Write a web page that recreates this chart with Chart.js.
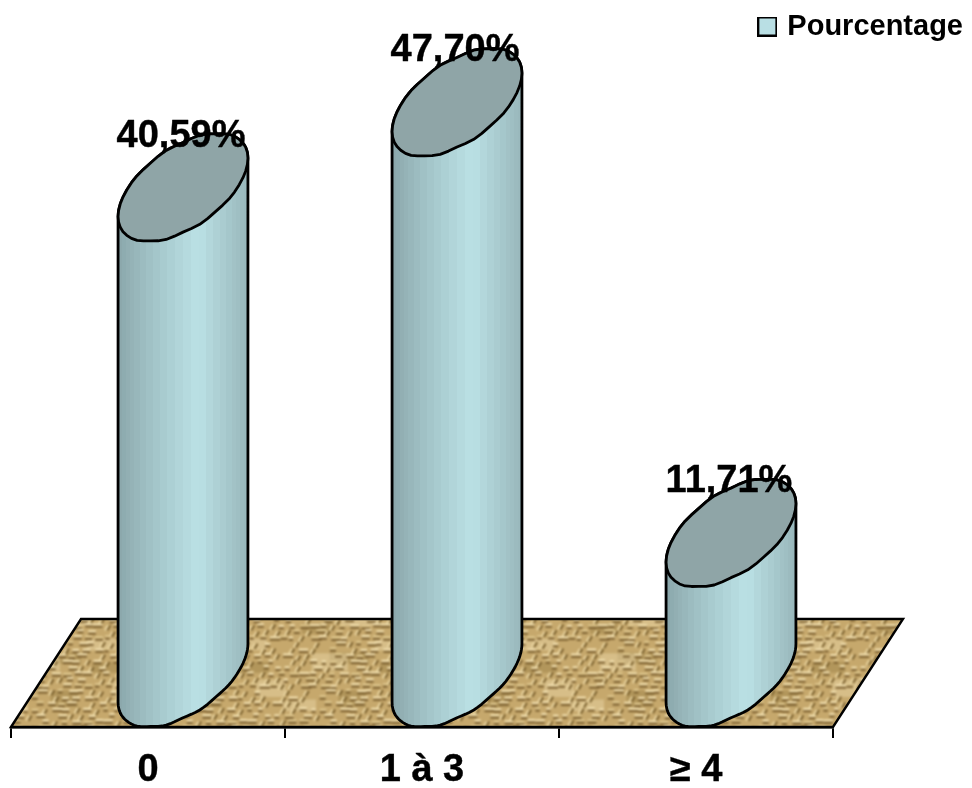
<!DOCTYPE html>
<html>
<head>
<meta charset="utf-8">
<style>
  html, body { margin: 0; padding: 0; background: #fff; }
  #wrap { width: 972px; height: 788px; }
</style>
<script src="https://cdn.jsdelivr.net/npm/chart.js@4"></script>
</head>
<body>
<div id="wrap"><canvas id="chart"></canvas></div>
<script>
const categories = ['0', '1 à 3', '≥ 4'];
const percentages = [40.59, 47.70, 11.71];
const seriesName = 'Pourcentage';

const FONT = '"Liberation Sans", Arial, sans-serif';
const BODY_LIGHT = [187, 225, 229];
const BODY_LEFT = [136, 164, 168];
const BODY_RIGHT = [152, 182, 186];
const FLOOR_DX = 70;   // how far the back edge of the floor leans right
const FLOOR_DY = 108;  // floor depth on screen
const BANDS = 26;

function mix(a, b, t) {
  return 'rgb(' + a.map((v, i) => Math.round(v + (b[i] - v) * t)).join(',') + ')';
}

// woven sacking texture for the floor, tiled as a pattern
function makeFloorPattern(ctx) {
  const size = 144;
  const raw = document.createElement('canvas');
  raw.width = raw.height = size * 3;
  const r = raw.getContext('2d');
  r.fillStyle = '#c6a86c';
  r.fillRect(0, 0, size * 3, size * 3);
  let seed = 23;
  const next = () => {
    seed = (seed * 137 + 59) % 1009;
    return seed / 1009;
  };
  // the same threads are repeated on a 3x3 grid so the blur wraps cleanly
  const thread = (color, width, x0, y0, x1, y1) => {
    r.strokeStyle = color;
    r.lineWidth = width;
    for (let gx = 0; gx < 3; gx++) {
      for (let gy = 0; gy < 3; gy++) {
        r.beginPath();
        r.moveTo(x0 + gx * size, y0 + gy * size);
        r.lineTo(x1 + gx * size, y1 + gy * size);
        r.stroke();
      }
    }
  };
  // wide pale and olive patches
  for (let i = 0; i < 12; i++) {
    const tone = next() < 0.45 ? 'rgba(236,218,170,0.45)' : 'rgba(140,118,60,0.35)';
    const x = next() * size, y = next() * size;
    thread(tone, 10 + next() * 8, x, y, x + 18 + next() * 22, y);
  }
  // short threads: mostly flat, some slanting down to the left
  for (let row = 0; row < 24; row++) {
    for (let col = 0; col < 14; col++) {
      const x = col * 10.3 + (row % 2) * 5 + next() * 3;
      const y = row * 6 + next() * 2;
      const k = next();
      const w = 4 + next() * 7;
      if (k < 0.6) {
        thread(next() < 0.62 ? '#f2e0b0' : '#dfc88f', 2.2, x, y, x + w, y);
        thread('#75592a', 1.9, x, y + 2.4, x + w, y + 2.4);
      } else if (k < 0.88) {
        thread('#ecd7a2', 2.2, x + 3, y, x, y + 5);
        thread('#745a28', 1.9, x + 5.2, y, x + 2.2, y + 5);
      }
    }
  }
  const soft = document.createElement('canvas');
  soft.width = soft.height = size;
  const s = soft.getContext('2d');
  s.filter = 'blur(0.8px)';
  s.drawImage(raw, -size, -size);
  return ctx.createPattern(soft, 'repeat');
}

// the square legend marker; the box is placed by hand so it sits closer to the text
function makeLegendMark(color) {
  const c = document.createElement('canvas');
  c.width = c.height = 20;
  const g = c.getContext('2d');
  g.fillStyle = color;
  g.fillRect(1, 1, 18, 18);
  g.strokeStyle = '#000';
  g.lineWidth = 2;
  g.strokeRect(1, 1, 18, 18);
  return c;
}

// a point on the leaning elliptical rim of a cylinder, with a little hand wobble
function rimPoint(cx, cy, rx, t) {
  const c = Math.cos(t), s = Math.sin(t);
  const wobble = 0.7 * Math.sin(11 * t) * s * s;
  return [cx + rx * c, cy - rx * 0.45 * c + rx * 0.7 * s + wobble];
}

function traceRim(ctx, cx, cy, rx, from, to, start) {
  const steps = 48;
  for (let i = 0; i <= steps; i++) {
    const p = rimPoint(cx, cy, rx, from + (to - from) * i / steps);
    if (i === 0 && start) ctx.moveTo(p[0], p[1]);
    else ctx.lineTo(p[0], p[1]);
  }
}

class CylinderController extends Chart.BarController {
  draw() {
    const ctx = this.chart.ctx;
    const bars = this._cachedMeta.data;
    const values = this.getDataset().data;
    bars.forEach((bar) => {
      const p = bar.getProps(['x', 'y', 'base', 'width'], true);
      const rx = p.width / 2;
      const cx = p.x + FLOOR_DX / 2;
      const topY = p.y - FLOOR_DY / 2;
      const baseY = p.base - FLOOR_DY / 2;

      const outline = () => {
        ctx.beginPath();
        traceRim(ctx, cx, topY, rx, 0, -Math.PI, true);
        traceRim(ctx, cx, baseY, rx, Math.PI, 0, false);
        ctx.closePath();
      };
      ctx.save();
      outline();
      ctx.clip();
      // shaded strips, narrower towards the edges like a real cylinder
      for (let b = 0; b < BANDS; b++) {
        const a0 = Math.PI - Math.PI * b / BANDS;
        const a1 = Math.PI - Math.PI * (b + 1) / BANDS;
        const x0 = Math.round(cx + rx * Math.cos(a0));
        const x1 = Math.round(cx + rx * Math.cos(a1));
        const t = ((x0 + x1) / 2 - (cx - rx)) / p.width;
        ctx.fillStyle = t < 0.62
          ? mix(BODY_LEFT, BODY_LIGHT, Math.pow(t / 0.62, 0.8))
          : mix(BODY_LIGHT, BODY_RIGHT, (t - 0.62) / 0.38);
        ctx.fillRect(x0, topY - rx, Math.max(x1 - x0, 1), baseY - topY + 2 * rx + 10);
      }
      ctx.restore();

      ctx.lineWidth = 2.8;
      ctx.lineJoin = 'round';
      ctx.strokeStyle = '#000';
      outline();
      ctx.stroke();

      ctx.beginPath();
      traceRim(ctx, cx, topY, rx, 0, Math.PI * 2, true);
      ctx.closePath();
      ctx.fillStyle = '#8fa5a7';
      ctx.fill();
      ctx.stroke();
    });

    // value labels sit on the far edge of each top rim
    ctx.save();
    ctx.font = 'bold 38px ' + FONT;
    ctx.fillStyle = '#000';
    ctx.strokeStyle = '#000';
    ctx.lineWidth = 0.4;
    ctx.textAlign = 'center';
    ctx.textBaseline = 'middle';
    bars.forEach((bar, i) => {
      const p = bar.getProps(['x', 'y', 'width'], true);
      const text = values[i].toFixed(2).replace('.', ',') + '%';
      const tx = p.x + FLOOR_DX / 2 - 2;
      const ty = p.y - FLOOR_DY / 2 - p.width * 0.395;
      ctx.fillText(text, tx, ty);
      ctx.strokeText(text, tx, ty);
    });
    ctx.restore();
  }
}
CylinderController.id = 'cylinder';
CylinderController.defaults = Chart.BarController.defaults;
Chart.register(CylinderController);

let floorPattern = null;
const floorPlugin = {
  id: 'floor',
  beforeDatasetsDraw(chart) {
    const { ctx, chartArea: area } = chart;
    if (!floorPattern) floorPattern = makeFloorPattern(ctx);
    ctx.save();
    ctx.beginPath();
    ctx.moveTo(area.left, area.bottom);
    ctx.lineTo(area.left + FLOOR_DX, area.bottom - FLOOR_DY);
    ctx.lineTo(area.right + FLOOR_DX, area.bottom - FLOOR_DY);
    ctx.lineTo(area.right, area.bottom);
    ctx.closePath();
    ctx.fillStyle = floorPattern;
    ctx.fill();
    ctx.lineWidth = 2.4;
    ctx.strokeStyle = '#000';
    ctx.stroke();
    ctx.restore();
  }
};

new Chart(document.getElementById('chart'), {
  type: 'cylinder',
  data: {
    labels: categories,
    datasets: [{
      label: seriesName,
      data: percentages,
      backgroundColor: '#b9dfe4',
      barPercentage: 0.474,
      categoryPercentage: 1,
      clip: false
    }]
  },
  plugins: [floorPlugin],
  options: {
    responsive: true,
    maintainAspectRatio: false,
    animation: false,
    layout: { padding: { left: 11, top: 3 } },
    plugins: {
      tooltip: { enabled: false },
      legend: {
        position: 'top',
        align: 'end',
        labels: {
          font: { family: FONT, size: 29, weight: 'bold' },
          color: '#000',
          usePointStyle: true,
          pointStyle: makeLegendMark('#b9dfe4'),
          pointStyleWidth: 11,
          padding: 9
        }
      }
    },
    scales: {
      x: {
        type: 'category',
        offset: true,
        grid: { offset: true, drawOnChartArea: false, tickLength: 11, color: '#000', lineWidth: 2 },
        border: { color: '#000', width: 2.4 },
        ticks: {
          color: '#000',
          padding: 10,
          maxRotation: 0,
          textStrokeColor: '#000',
          textStrokeWidth: 0.4,
          font: { family: FONT, size: 38, weight: 'bold' }
        },
        afterFit(scale) { scale.height = 61; }
      },
      y: {
        position: 'right',
        min: 0,
        max: 56.5,
        grid: { display: false },
        border: { display: false },
        ticks: { display: false },
        // keeps the room on the right that the leaning floor runs into
        afterFit(scale) { scale.width = 139; }
      }
    }
  }
});
</script>
</body>
</html>
